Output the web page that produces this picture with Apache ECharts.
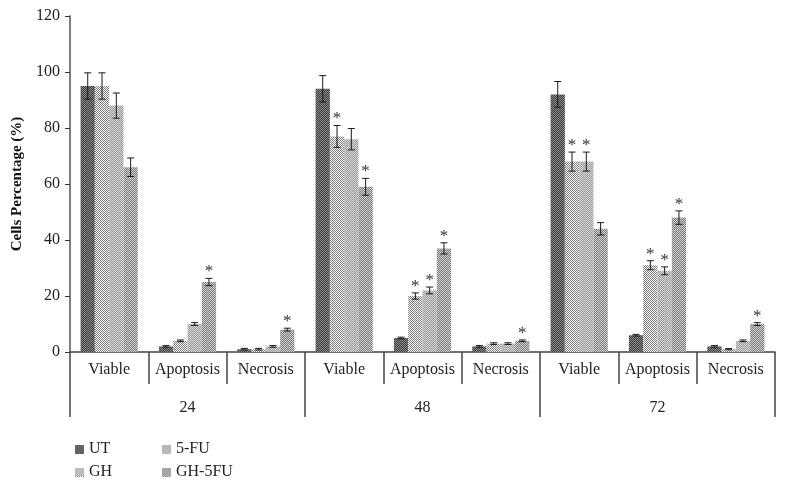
<!DOCTYPE html>
<html>
<head>
<meta charset="utf-8">
<script src="https://cdn.jsdelivr.net/npm/echarts@6/dist/echarts.min.js"></script>
<style>
  html, body { margin: 0; padding: 0; background: #fff; }
  #chart { width: 786px; height: 484px; }
</style>
</head>
<body>
<div id="chart"></div>
<script>
const states = ['Viable', 'Apoptosis', 'Necrosis', 'Viable', 'Apoptosis', 'Necrosis', 'Viable', 'Apoptosis', 'Necrosis']
const hours = ['24', '48', '72']
const seriesNames = ['UT', 'GH', '5-FU', 'GH-5FU']

const utValues = [95, 2, 1, 94, 5, 2, 92, 6, 2]
const ghValues = [95, 4, 1, 77, 20, 3, 68, 31, 1]
const fuValues = [88, 10, 2, 76, 22, 3, 68, 29, 4]
const ghfuValues = [66, 25, 8, 59, 37, 4, 44, 48, 10]

const utErrors = [4.7, 0.3, 0.3, 4.7, 0.3, 0.3, 4.6, 0.3, 0.3]
const ghErrors = [4.7, 0.3, 0.3, 3.9, 1.1, 0.3, 3.4, 1.6, 0.2]
const fuErrors = [4.5, 0.5, 0.3, 3.8, 1.2, 0.3, 3.4, 1.4, 0.3]
const ghfuErrors = [3.3, 1.3, 0.5, 3.0, 2.0, 0.3, 2.2, 2.4, 0.5]

// 1 = significant (asterisk)
const utStars = [0, 0, 0, 0, 0, 0, 0, 0, 0]
const ghStars = [0, 0, 0, 1, 1, 0, 1, 1, 0]
const fuStars = [0, 0, 0, 0, 1, 0, 1, 1, 0]
const ghfuStars = [0, 1, 1, 1, 1, 1, 0, 1, 1]

const yTicks = { min: 0, max: 120, interval: 20 }

const values = [utValues, ghValues, fuValues, ghfuValues]
const errors = [utErrors, ghErrors, fuErrors, ghfuErrors]
const stars = [utStars, ghStars, fuStars, ghfuStars]

const FONT = '"Liberation Serif", "DejaVu Serif", serif'
const CAT_GAP = 0.27

const tones = [
  ['#3e3e3e', '#8a8a8a'],
  ['#ffffff', '#7a7a7a'],
  ['#9c9c9c', '#d4d4d4'],
  ['#7c7c7c', '#d0d0d0'],
]

function checkerCanvas(a, b, w, h) {
  const c = document.createElement('canvas')
  c.width = w
  c.height = h
  const ctx = c.getContext('2d')
  ctx.fillStyle = a
  ctx.fillRect(0, 0, w, h)
  ctx.fillStyle = b
  for (let y = 0; y < h; y++) {
    for (let x = 0; x < w; x++) {
      if ((x + y) % 2 === 0) ctx.fillRect(x, y, 1, 1)
    }
  }
  return c
}

const fills = tones.map(([a, b]) => ({ image: checkerCanvas(a, b, 2, 2), repeat: 'repeat' }))
const legendIcons = tones.map(([a, b]) => 'image://' + checkerCanvas(a, b, 9, 9).toDataURL())

const barSeries = seriesNames.map((name, k) => ({
  name,
  type: 'bar',
  barGap: 0,
  barCategoryGap: (CAT_GAP * 100) + '%',
  itemStyle: { color: fills[k] },
  data: values[k],
}))

const errSeries = seriesNames.map((name, k) => ({
  name: 'err-' + name,
  type: 'custom',
  z: 5,
  silent: true,
  data: values[k].map((v, i) => [i, v, errors[k][i], stars[k][i]]),
  renderItem: (params, api) => {
    const cat = api.value(0)
    const val = api.value(1)
    const err = api.value(2)
    const band = api.size([1, 0])[0]
    const bw = band * (1 - CAT_GAP) / 4
    const cx = api.coord([cat, 0])[0] + (k - 1.5) * bw
    const yTop = api.coord([cat, val + err])[1]
    const yBot = api.coord([cat, Math.max(val - err, 0)])[1]
    const cap = 3.5
    const line = { stroke: '#1a1a1a', lineWidth: 1 }
    const children = [
      { type: 'line', shape: { x1: cx, y1: yTop, x2: cx, y2: yBot }, style: line },
      { type: 'line', shape: { x1: cx - cap, y1: yTop, x2: cx + cap, y2: yTop }, style: line },
      { type: 'line', shape: { x1: cx - cap, y1: yBot, x2: cx + cap, y2: yBot }, style: line },
    ]
    if (api.value(3)) {
      children.push({
        type: 'text',
        style: {
          text: '*', x: cx, y: yTop + 2,
          align: 'center', verticalAlign: 'bottom',
          font: '17px ' + FONT, fill: '#333',
        },
      })
    }
    return { type: 'group', children }
  },
}))

const legendOrder = ['UT', '5-FU', 'GH', 'GH-5FU']

const chart = echarts.init(document.getElementById('chart'), null, { renderer: 'canvas' })

chart.setOption({
  animation: false,
  textStyle: { fontFamily: FONT },
  grid: { left: 70, right: 11, top: 16, bottom: 132, containLabel: false, outerBoundsMode: 'none' },
  legend: {
    data: legendOrder.map((name) => ({ name, icon: legendIcons[seriesNames.indexOf(name)] })),
    left: 70,
    top: 436,
    width: 200,
    itemWidth: 9,
    itemHeight: 9,
    itemGap: 7,
    textStyle: { fontFamily: FONT, fontSize: 16, color: '#222', width: 66, lineHeight: 13 },
  },
  xAxis: [
    {
      type: 'category',
      data: states,
      position: 'bottom',
      axisLine: { lineStyle: { color: '#444', width: 1.5 } },
      axisTick: { show: true, interval: 0, length: 32, lineStyle: { color: '#444', width: 1.5 } },
      axisLabel: { interval: 0, margin: 10, fontSize: 16, fontFamily: FONT, color: '#222' },
    },
    {
      type: 'category',
      data: hours,
      position: 'bottom',
      axisLine: { show: false },
      axisTick: { show: true, interval: 0, length: 65, lineStyle: { color: '#444', width: 1.5 } },
      axisLabel: { interval: 0, margin: 48, fontSize: 16, fontFamily: FONT, color: '#222' },
    },
  ],
  yAxis: {
    type: 'value',
    min: yTicks.min,
    max: yTicks.max,
    interval: yTicks.interval,
    name: 'Cells Percentage (%)',
    nameLocation: 'middle',
    nameGap: 44,
    nameTextStyle: { fontFamily: FONT, fontSize: 15, fontWeight: 'bold', color: '#111' },
    axisLine: { show: true, lineStyle: { color: '#808080', width: 2 } },
    axisTick: { show: true, length: 5, lineStyle: { color: '#333', width: 1 } },
    axisLabel: { margin: 10, fontSize: 16, fontFamily: FONT, color: '#222' },
    splitLine: { show: false },
  },
  series: [...barSeries, ...errSeries],
})
</script>
</body>
</html>
